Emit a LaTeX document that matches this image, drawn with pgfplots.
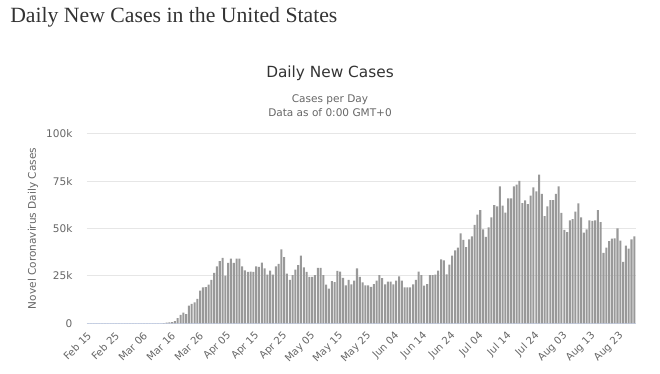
\documentclass[border=0pt]{standalone}
\usepackage{fontspec}
\setmainfont{DejaVu Sans}
\newfontfamily\pagetitlefont{Liberation Serif}
\usepackage{pgfplots}
\usepackage{pgfplotstable}
\pgfplotsset{compat=1.18}
\definecolor{bargray}{HTML}{999999}
\definecolor{gridgray}{HTML}{E6E6E6}
\definecolor{axisblue}{HTML}{CCD6EB}
\definecolor{txtgray}{HTML}{666666}
\definecolor{titlegray}{HTML}{333333}
\pgfplotstableread{
d v
0 0
1 0
2 0
3 0
4 0
5 0
6 0
7 0
8 0
9 0
10 0
11 0
12 0
13 0
14 0
15 0
16 0
17 0
18 0
19 0
20 0
21 0
22 0
23 0
24 0
25 0
26 0
27 150
28 300
29 500
30 600
31 1200
32 2700
33 4400
34 5700
35 4800
36 9400
37 10300
38 11000
39 12900
40 17200
41 19000
42 19100
43 20400
44 23000
45 26600
46 30100
47 32800
48 34600
49 25200
50 31900
51 34200
52 31900
53 34200
54 34200
55 30100
56 28000
57 27100
58 27300
59 27100
60 30000
61 29800
62 32000
63 29000
64 25700
65 27800
66 25700
67 30000
68 31400
69 39000
70 35000
71 26200
72 23000
73 25400
74 28400
75 30700
76 35800
77 29600
78 27100
79 24500
80 24500
81 25400
82 29300
83 29300
84 25500
85 20400
86 18300
87 22300
88 21800
89 27700
90 27300
91 24000
92 20000
93 23000
94 20600
95 22500
96 29000
97 24500
98 21600
99 20000
100 20000
101 19300
102 20700
103 22500
104 25500
105 23800
106 20600
107 22000
108 22000
109 20600
110 22500
111 24800
112 22500
113 19000
114 19000
115 19000
116 20600
117 23000
118 27300
119 25400
120 19900
121 20700
122 25400
123 25500
124 25700
125 27800
126 33700
127 33200
128 25900
129 31000
130 35800
131 38500
132 40000
133 47500
134 44000
135 40200
136 44300
137 45900
138 52000
139 57400
140 59800
141 49600
142 45700
143 50700
144 56000
145 62400
146 61700
147 72300
148 62200
149 58500
150 66000
151 66000
152 72300
153 73200
154 75200
155 63500
156 64900
157 62900
158 67400
159 71800
160 69700
161 78500
162 68400
163 56600
164 61700
165 65000
166 65000
167 68400
168 72300
169 58300
170 49300
171 48200
172 54400
173 55000
174 59000
175 63300
176 55900
177 47900
178 49600
179 54400
180 54100
181 54400
182 59800
183 53500
184 37200
185 40000
186 43400
187 44700
188 44900
189 50200
190 43600
191 32400
192 41000
193 39500
194 44300
195 45900
}\cases
\begin{document}
\begin{tikzpicture}[x=0.75pt,y=0.75pt]
\path[use as bounding box] (0,0) rectangle (660,374);
\node[anchor=west, inner sep=0pt, text=titlegray, font=\pagetitlefont\fontsize{16.3}{19}\selectfont] at (10,357) {Daily New Cases in the United States};
\node[inner sep=0pt, text=titlegray, font=\fontsize{11.5}{14}\selectfont] at (330,301) {Daily New Cases};
\node[inner sep=0pt, text=txtgray, font=\fontsize{7.9}{9.5}\selectfont] at (330,274) {Cases per Day};
\node[inner sep=0pt, text=txtgray, font=\fontsize{7.9}{9.5}\selectfont] at (330,261) {Data as of 0:00 GMT+0};
\node[inner sep=0pt, rotate=90, text=txtgray, font=\fontsize{7.9}{9.5}\selectfont] at (33,145.5) {Novel Coronavirus Daily Cases};
\begin{axis}[
  at={(65.025pt,38.025pt)}, anchor=south west,
  scale only axis, width=411.75pt, height=142pt,
  xmin=-0.5, xmax=195.5, ymin=0, ymax=100000,
  axis x line*=bottom, axis y line*=left,
  x axis line style={draw=axisblue, line width=0.75pt, -},
  y axis line style={draw=none},
  ymajorgrids, grid style={draw=gridgray, line width=0.75pt},
  major tick length=0pt,
  ytick={0,25000,50000,75000,100000},
  yticklabels={0,25k,50k,75k,100k},
  scaled y ticks=false,
  xtick={0,10,...,190},
  xticklabels={Feb 15,Feb 25,Mar 06,Mar 16,Mar 26,Apr 05,Apr 15,Apr 25,May 05,May 15,May 25,Jun 04,Jun 14,Jun 24,Jul 04,Jul 14,Jul 24,Aug 03,Aug 13,Aug 23},
  /pgf/number format/assume math mode=true,
  yticklabel style={anchor=east, inner sep=0pt, xshift=-10.5pt, text=txtgray, font=\fontsize{7.9}{9.5}\selectfont},
  xticklabel style={inner sep=0pt, xshift=1pt, yshift=-8pt, rotate=45, anchor=east, text=txtgray, font=\fontsize{7.6}{9}\selectfont},
  clip=false,
]
\addplot[ybar, bar width=0.72, bar shift=0pt, fill=bargray, draw=none] table[x=d, y=v] {\cases};
\end{axis}
\end{tikzpicture}
\end{document}
